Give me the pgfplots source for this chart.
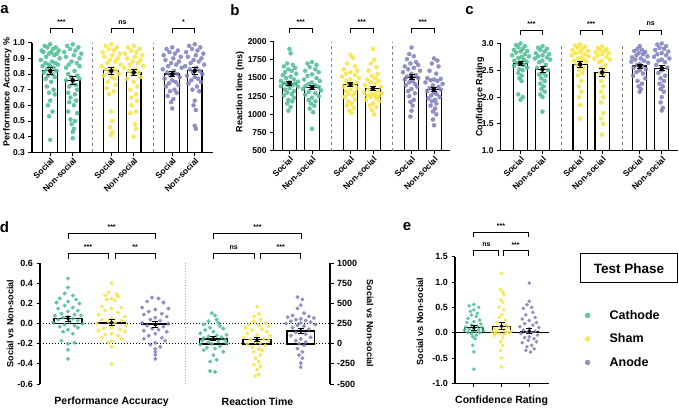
\documentclass[border=0pt]{standalone}
\usepackage{fontspec}
\setmainfont{Liberation Sans}
\usepackage{pgfplots}
\pgfplotsset{compat=1.18}

\definecolor{cath}{RGB}{75,190,145}
\definecolor{sham}{RGB}{248,228,60}
\definecolor{anod}{RGB}{128,128,190}

% swarm: position, x spread factor, colour, rows "dx value\\"
\newcommand{\sw}[4]{\addplot[only marks, mark=*, color=#3, mark options={draw=#3, fill=#3, opacity=0.85}]
  table[row sep=\\, x expr=\thisrow{d}*#2+#1, y=v] {d v\\ #4};}
% bracket: x1, x2, y of bar, y of legs, text shift, text
\newcommand{\brk}[6]{\draw[line width=0.9pt] (axis cs:#1,#4) -- (axis cs:#1,#3) -- node[pos=0.5, yshift=#5, font=\bfseries\fontsize{7}{8}\selectfont] {#6} (axis cs:#2,#3) -- (axis cs:#2,#4);}

\pgfplotsset{
  pan/.style={
    scale only axis, anchor=south west, clip mode=individual,
    axis line style={line width=1.1pt},
    every tick/.style={black, line width=0.9pt},
    major tick length=3.5pt, tick align=outside,
    /pgf/number format/assume math mode=true,
    ticklabel style={font=\bfseries\fontsize{8.5}{9}\selectfont},
    label style={font=\bfseries\fontsize{9}{10}\selectfont},
    yticklabel style={/pgf/number format/.cd, fixed, fixed zerofill, precision=1},
    every axis plot/.append style={mark size=2pt},
  },
  abc/.style={
    pan, axis x line*=bottom, axis y line*=left,
    xmin=-0.81, xmax=7.22,
    xtick={0,1,2.71,3.71,5.42,6.42},
    xticklabels={Social,Non-social,Social,Non-social,Social,Non-social},
    xticklabel style={rotate=45, anchor=north east, inner sep=1pt},
  },
  bars/.style={ybar, bar width=0.65, fill=white, draw=black, line width=1.1pt, forget plot},
  errs/.style={forget plot, only marks, mark=none, error bars/.cd, y dir=both, y explicit,
    error bar style={line width=0.7pt, black}, error mark options={rotate=90, mark size=3pt, line width=0.7pt, black}},
}

\begin{document}
\begin{tikzpicture}
\useasboundingbox (0pt,0pt) rectangle (679pt,409pt);

% ---------------- a
\begin{axis}[abc, at={(32pt,256.7pt)}, width=180.7pt, height=109.6pt,
  ymin=0.3, ymax=1.0, ytick={0.3,0.4,0.5,0.6,0.7,0.8,0.9,1.0},
  ylabel={Performance Accuracy \%},
  ylabel style={at={(axis description cs:-0.137,0.55)}, anchor=center}]
\addplot[bars] coordinates {(0,0.82) (1,0.76) (2.71,0.82) (3.71,0.81) (5.42,0.80) (6.42,0.82)};
\sw{0}{1}{cath}{0 0.99\\ -0.25 0.98\\ 0.25 0.97\\ -0.12 0.97\\ 0.12 0.96\\ -0.38 0.95\\ 0.38 0.95\\ 0.05 0.94\\ -0.3 0.94\\ 0.3 0.93\\ -0.05 0.93\\ 0.18 0.92\\ -0.18 0.91\\ 0.42 0.90\\ -0.42 0.89\\ 0.08 0.88\\ -0.22 0.87\\ 0.22 0.87\\ -0.08 0.86\\ 0.34 0.86\\ -0.34 0.85\\ 0 0.85\\ 0.15 0.84\\ -0.15 0.83\\ 0.28 0.82\\ -0.28 0.81\\ 0.1 0.80\\ -0.1 0.79\\ 0.2 0.78\\ -0.2 0.77\\ 0.04 0.75\\ -0.15 0.72\\ 0.15 0.70\\ -0.05 0.68\\ 0.2 0.67\\ 0 0.63\\ -0.1 0.60\\ 0.1 0.56\\ -0.05 0.53\\ 0 0.38\\}
\sw{1}{1}{cath}{0 0.99\\ -0.25 0.98\\ 0.25 0.97\\ -0.12 0.96\\ 0.12 0.95\\ -0.38 0.94\\ 0.38 0.93\\ 0.05 0.92\\ -0.3 0.91\\ 0.3 0.90\\ -0.05 0.88\\ 0.18 0.87\\ -0.18 0.86\\ 0.3 0.85\\ -0.3 0.84\\ 0.08 0.82\\ -0.2 0.80\\ 0.2 0.79\\ -0.08 0.78\\ 0.3 0.77\\ -0.3 0.76\\ 0 0.74\\ 0.15 0.73\\ -0.15 0.72\\ 0.2 0.70\\ -0.2 0.68\\ 0.1 0.67\\ -0.1 0.65\\ 0.15 0.63\\ -0.15 0.62\\ 0.05 0.60\\ -0.2 0.56\\ 0.2 0.55\\ -0.1 0.51\\ 0.1 0.50\\ -0.05 0.48\\ 0.05 0.45\\ 0 0.43\\ 0 0.39\\}
\sw{2.71}{1}{sham}{0 0.99\\ -0.25 0.98\\ 0.25 0.97\\ -0.12 0.96\\ 0.12 0.95\\ -0.38 0.94\\ 0.38 0.93\\ 0.05 0.92\\ -0.3 0.91\\ 0.3 0.90\\ -0.05 0.89\\ 0.18 0.88\\ -0.18 0.87\\ 0.42 0.86\\ -0.42 0.85\\ 0.08 0.84\\ -0.22 0.83\\ 0.22 0.82\\ -0.08 0.81\\ 0.34 0.80\\ -0.34 0.79\\ 0 0.78\\ 0.15 0.77\\ -0.15 0.75\\ 0.2 0.73\\ -0.2 0.71\\ 0.1 0.69\\ -0.1 0.67\\ 0 0.56\\ 0.05 0.50\\ -0.05 0.46\\ 0.05 0.43\\ 0 0.41\\}
\sw{3.71}{1}{sham}{0 0.98\\ -0.25 0.97\\ 0.25 0.96\\ -0.12 0.95\\ 0.12 0.94\\ -0.38 0.93\\ 0.38 0.92\\ 0.05 0.91\\ -0.3 0.90\\ 0.3 0.89\\ -0.05 0.88\\ 0.18 0.87\\ -0.18 0.86\\ 0.42 0.85\\ -0.42 0.84\\ 0.08 0.83\\ -0.22 0.82\\ 0.22 0.81\\ -0.08 0.80\\ 0.3 0.78\\ -0.3 0.77\\ 0 0.75\\ 0.15 0.72\\ -0.15 0.70\\ 0.1 0.67\\ -0.1 0.65\\ 0.15 0.63\\ -0.1 0.60\\ 0.1 0.56\\ -0.15 0.55\\ 0.05 0.48\\ 0.1 0.45\\ 0 0.40\\}
\sw{5.42}{1}{anod}{0 0.97\\ -0.25 0.96\\ 0.25 0.95\\ -0.12 0.94\\ 0.12 0.93\\ -0.38 0.92\\ 0.38 0.91\\ 0.05 0.90\\ -0.3 0.89\\ 0.3 0.88\\ -0.05 0.87\\ 0.18 0.86\\ -0.18 0.85\\ 0.42 0.84\\ -0.42 0.83\\ 0.08 0.82\\ -0.22 0.81\\ 0.22 0.80\\ -0.08 0.79\\ 0.34 0.78\\ -0.34 0.77\\ 0 0.76\\ 0.15 0.75\\ -0.15 0.74\\ 0.28 0.73\\ -0.28 0.72\\ 0.1 0.70\\ -0.1 0.69\\ 0.2 0.68\\ -0.2 0.66\\ 0.05 0.64\\ -0.05 0.62\\ 0 0.58\\}
\sw{6.42}{1}{anod}{0 0.99\\ -0.25 0.98\\ 0.25 0.97\\ -0.12 0.96\\ 0.12 0.95\\ -0.38 0.94\\ 0.38 0.93\\ 0.05 0.92\\ -0.3 0.91\\ 0.3 0.90\\ -0.05 0.89\\ 0.18 0.88\\ -0.18 0.87\\ 0.42 0.86\\ -0.42 0.85\\ 0.08 0.84\\ -0.22 0.83\\ 0.22 0.82\\ -0.08 0.81\\ 0.34 0.80\\ -0.34 0.79\\ 0 0.78\\ 0.15 0.77\\ -0.15 0.76\\ 0.28 0.75\\ -0.28 0.74\\ 0.1 0.72\\ -0.1 0.70\\ 0.2 0.69\\ 0 0.63\\ -0.05 0.60\\ 0.05 0.57\\ 0 0.47\\ 0.05 0.45\\}
\addplot[errs] coordinates {(0,0.82) +- (0,0.02) (1,0.76) +- (0,0.025) (2.71,0.82) +- (0,0.02) (3.71,0.81) +- (0,0.02) (5.42,0.80) +- (0,0.015) (6.42,0.82) +- (0,0.02)};
\draw[gray, dashed, line width=0.5pt] (axis cs:1.855,0.3) -- (axis cs:1.855,1.0);
\draw[gray, dashed, line width=0.5pt] (axis cs:4.565,0.3) -- (axis cs:4.565,1.0);
\brk{0}{1}{1.092}{1.060}{6pt}{***}
\brk{2.71}{3.71}{1.092}{1.060}{6pt}{ns}
\brk{5.42}{6.42}{1.092}{1.060}{6pt}{*}
\end{axis}

% ---------------- b
\begin{axis}[abc, at={(273.7pt,258.3pt)}, width=176.3pt, height=109pt,
  xmin=-0.70, xmax=7.13,
  ymin=500, ymax=2000, ytick={500,750,1000,1250,1500,1750,2000},
  yticklabel style={/pgf/number format/.cd, fixed, precision=0, 1000 sep={}},
  ylabel={Reaction time (ms)},
  ylabel style={at={(axis description cs:-0.191,0.54)}, anchor=center}]
\addplot[bars] coordinates {(0,1430) (1,1370) (2.71,1415) (3.71,1360) (5.42,1510) (6.42,1345)};
\sw{0}{1}{cath}{0 1900\\ 0.05 1840\\ -0.1 1700\\ 0.15 1680\\ -0.25 1660\\ 0.25 1640\\ -0.05 1620\\ 0.1 1600\\ -0.2 1580\\ 0.3 1560\\ -0.3 1540\\ 0.05 1520\\ -0.15 1500\\ 0.2 1480\\ -0.38 1460\\ 0.38 1450\\ 0 1440\\ -0.25 1430\\ 0.25 1420\\ -0.1 1410\\ 0.12 1400\\ -0.38 1390\\ 0.38 1380\\ 0 1360\\ -0.2 1340\\ 0.2 1320\\ -0.1 1300\\ 0.1 1280\\ -0.25 1260\\ 0.2 1230\\ -0.05 1200\\ 0.12 1180\\ -0.1 1150\\ 0.05 1100\\ -0.05 1050\\}
\sw{1}{1}{cath}{0 1720\\ -0.2 1700\\ 0.2 1680\\ -0.1 1650\\ 0.15 1620\\ -0.3 1600\\ 0.3 1580\\ 0 1550\\ -0.2 1530\\ 0.2 1500\\ -0.35 1480\\ 0.35 1460\\ 0 1440\\ -0.15 1420\\ 0.15 1400\\ -0.3 1390\\ 0.3 1380\\ 0 1370\\ -0.4 1350\\ 0.4 1330\\ -0.15 1310\\ 0.15 1290\\ -0.3 1270\\ 0.3 1250\\ 0 1230\\ -0.15 1200\\ 0.15 1180\\ -0.05 1150\\ 0.1 1120\\ -0.1 1080\\ 0.05 1030\\ 0 800\\}
\sw{2.71}{1}{sham}{0 1820\\ 0.1 1780\\ -0.15 1700\\ 0.2 1660\\ -0.3 1620\\ 0.3 1600\\ 0 1580\\ -0.2 1560\\ 0.2 1540\\ -0.38 1520\\ 0.38 1500\\ 0 1480\\ -0.2 1460\\ 0.25 1440\\ -0.1 1420\\ 0.1 1400\\ -0.3 1380\\ 0.3 1360\\ 0 1340\\ -0.2 1320\\ 0.2 1300\\ -0.1 1280\\ 0.1 1260\\ -0.25 1240\\ 0.2 1200\\ -0.1 1180\\ 0.05 1150\\ -0.15 1120\\ 0.15 1090\\ -0.05 1050\\ 0.05 1020\\}
\sw{3.71}{1}{sham}{0 1900\\ 0.05 1750\\ -0.1 1700\\ 0.15 1650\\ -0.2 1600\\ 0.2 1560\\ -0.05 1530\\ 0.1 1500\\ -0.25 1480\\ 0.25 1460\\ -0.1 1440\\ 0.1 1420\\ -0.35 1400\\ 0.35 1380\\ 0 1360\\ -0.2 1340\\ 0.2 1320\\ -0.4 1300\\ 0.4 1290\\ -0.05 1280\\ 0.1 1270\\ -0.25 1260\\ 0.25 1250\\ -0.1 1240\\ 0.15 1220\\ -0.3 1200\\ 0.3 1180\\ 0 1150\\ -0.15 1120\\ 0.15 1100\\ -0.05 1060\\ 0.05 1000\\}
\sw{5.42}{1}{anod}{0 1920\\ -0.1 1830\\ 0.1 1800\\ -0.2 1760\\ 0.2 1720\\ -0.05 1700\\ 0.3 1680\\ -0.3 1660\\ 0.1 1640\\ -0.15 1620\\ 0.38 1600\\ -0.38 1580\\ 0 1560\\ 0.2 1540\\ -0.2 1520\\ 0.3 1500\\ -0.3 1480\\ 0.05 1460\\ -0.1 1440\\ 0.15 1420\\ -0.25 1400\\ 0.25 1380\\ 0 1350\\ -0.15 1320\\ 0.15 1290\\ -0.1 1250\\ 0.1 1200\\ -0.05 1170\\ 0.05 1120\\ 0 1050\\ -0.05 970\\}
\sw{6.42}{1}{anod}{0 1770\\ 0.15 1740\\ -0.1 1700\\ 0.2 1660\\ -0.2 1600\\ 0.1 1560\\ -0.3 1500\\ 0.3 1490\\ 0 1480\\ -0.15 1470\\ 0.15 1460\\ -0.38 1440\\ 0.38 1420\\ -0.05 1400\\ 0.2 1380\\ -0.2 1360\\ 0.3 1340\\ -0.3 1320\\ 0 1300\\ 0.12 1280\\ -0.12 1260\\ 0.25 1240\\ -0.25 1220\\ 0.05 1200\\ -0.1 1180\\ 0.1 1150\\ -0.15 1120\\ 0.05 1080\\ -0.05 1040\\ 0.1 1000\\ -0.05 930\\ 0 850\\}
\addplot[errs] coordinates {(0,1430) +- (0,25) (1,1370) +- (0,30) (2.71,1415) +- (0,30) (3.71,1360) +- (0,30) (5.42,1510) +- (0,35) (6.42,1345) +- (0,30)};
\draw[gray, dashed, line width=0.5pt] (axis cs:1.86,500) -- (axis cs:1.86,2000);
\draw[gray, dashed, line width=0.5pt] (axis cs:4.56,500) -- (axis cs:4.56,2000);
\brk{0}{1}{2184}{2116}{6pt}{***}
\brk{2.71}{3.71}{2184}{2116}{6pt}{***}
\brk{5.42}{6.42}{2184}{2116}{6pt}{***}
\end{axis}

% ---------------- c
\begin{axis}[abc, at={(500.7pt,258.3pt)}, width=177.3pt, height=107.2pt,
  xmin=-0.9, xmax=7.16,
  ymin=1.0, ymax=3.0, ytick={1.0,1.5,2.0,2.5,3.0},
  ylabel={Confidence Rating},
  ylabel style={at={(axis description cs:-0.117,0.5)}, anchor=center}]
\addplot[bars] coordinates {(0,2.63) (1,2.52) (2.71,2.61) (3.71,2.46) (5.42,2.58) (6.42,2.54)};
\sw{0}{1}{cath}{0 3.0\\ -0.2 2.97\\ 0.2 2.95\\ -0.1 2.93\\ 0.1 2.9\\ -0.3 2.88\\ 0.3 2.86\\ 0 2.85\\ -0.2 2.83\\ 0.2 2.8\\ -0.38 2.78\\ 0.38 2.76\\ 0.05 2.75\\ -0.1 2.73\\ 0.15 2.7\\ -0.28 2.68\\ 0.28 2.66\\ 0 2.65\\ -0.15 2.63\\ 0.15 2.6\\ -0.3 2.58\\ 0.3 2.55\\ -0.05 2.52\\ 0.1 2.5\\ -0.1 2.45\\ 0.05 2.4\\ -0.05 2.35\\ 0.05 2.3\\ -0.1 2.05\\ 0.1 2.0\\ 0 1.95\\}
\sw{1}{1}{cath}{0 2.95\\ -0.2 2.92\\ 0.2 2.9\\ -0.1 2.88\\ 0.1 2.85\\ -0.3 2.82\\ 0.3 2.8\\ 0 2.78\\ -0.2 2.76\\ 0.2 2.74\\ -0.35 2.72\\ 0.35 2.7\\ 0 2.68\\ -0.15 2.65\\ 0.15 2.6\\ -0.25 2.55\\ 0.25 2.5\\ 0 2.45\\ -0.15 2.42\\ 0.15 2.4\\ -0.05 2.35\\ 0.1 2.3\\ -0.1 2.25\\ 0.05 2.2\\ -0.05 2.15\\ 0.1 2.1\\ -0.1 2.05\\ 0 2.0\\ 0 1.73\\}
\sw{2.71}{1}{sham}{0 2.98\\ -0.22 2.96\\ 0.22 2.94\\ -0.1 2.92\\ 0.1 2.9\\ -0.35 2.88\\ 0.35 2.86\\ 0 2.84\\ -0.2 2.82\\ 0.2 2.8\\ -0.38 2.78\\ 0.38 2.76\\ 0.05 2.74\\ -0.1 2.72\\ 0.15 2.7\\ -0.28 2.68\\ 0.28 2.66\\ 0 2.64\\ -0.15 2.6\\ 0.15 2.55\\ -0.05 2.5\\ 0.1 2.45\\ -0.1 2.4\\ 0.05 2.3\\ -0.05 2.2\\ 0.05 2.1\\ -0.05 2.0\\ 0 1.85\\ 0 1.6\\}
\sw{3.71}{1}{sham}{0 2.95\\ -0.2 2.92\\ 0.2 2.9\\ -0.1 2.88\\ 0.1 2.86\\ -0.3 2.84\\ 0.3 2.82\\ 0 2.8\\ -0.2 2.78\\ 0.2 2.75\\ -0.35 2.72\\ 0.35 2.7\\ 0 2.68\\ -0.15 2.65\\ 0.15 2.6\\ -0.05 2.55\\ 0.1 2.5\\ -0.1 2.45\\ 0.05 2.4\\ -0.05 2.3\\ 0.05 2.2\\ -0.05 2.1\\ 0.05 2.0\\ -0.05 1.9\\ 0.05 1.7\\ -0.05 1.6\\ 0.05 1.5\\ 0 1.3\\}
\sw{5.42}{1}{anod}{0 2.95\\ -0.1 2.9\\ 0.1 2.88\\ -0.25 2.86\\ 0.25 2.84\\ -0.05 2.82\\ 0.15 2.8\\ -0.15 2.78\\ 0.35 2.76\\ -0.35 2.74\\ 0.05 2.72\\ -0.2 2.7\\ 0.2 2.68\\ -0.38 2.66\\ 0.38 2.64\\ 0 2.62\\ -0.12 2.6\\ 0.12 2.58\\ -0.28 2.55\\ 0.28 2.52\\ 0 2.5\\ -0.15 2.47\\ 0.15 2.44\\ -0.3 2.4\\ 0.25 2.35\\ -0.1 2.3\\ 0.1 2.25\\ -0.05 2.2\\ 0.05 2.15\\ 0 2.1\\}
\sw{6.42}{1}{anod}{0 3.0\\ -0.2 2.98\\ 0.2 2.95\\ -0.1 2.92\\ 0.1 2.9\\ -0.3 2.88\\ 0.3 2.85\\ 0 2.82\\ -0.2 2.8\\ 0.2 2.78\\ -0.35 2.75\\ 0.35 2.72\\ 0 2.7\\ -0.15 2.68\\ 0.15 2.65\\ -0.25 2.6\\ 0.25 2.55\\ 0 2.5\\ -0.15 2.45\\ 0.15 2.4\\ -0.05 2.35\\ 0.1 2.3\\ -0.1 2.25\\ 0.05 2.2\\ -0.05 2.15\\ 0.1 2.1\\ 0 2.0\\ -0.05 1.9\\ 0.05 1.8\\ 0 1.75\\}
\addplot[errs] coordinates {(0,2.63) +- (0,0.04) (1,2.52) +- (0,0.05) (2.71,2.61) +- (0,0.05) (3.71,2.46) +- (0,0.07) (5.42,2.58) +- (0,0.04) (6.42,2.54) +- (0,0.05)};
\draw[gray, dashed, line width=0.5pt] (axis cs:1.85,1.0) -- (axis cs:1.85,3.0);
\draw[gray, dashed, line width=0.5pt] (axis cs:4.61,1.0) -- (axis cs:4.61,3.0);
\brk{0}{1}{3.251}{3.158}{6pt}{***}
\brk{2.71}{3.71}{3.251}{3.158}{6pt}{***}
\brk{5.42}{6.42}{3.251}{3.158}{6pt}{ns}
\end{axis}

% ---------------- d, left axis: performance accuracy
\begin{axis}[pan, at={(40pt,25pt)}, width=290pt, height=120.7pt,
  axis y line*=left, axis x line=none,
  xmin=-0.64, xmax=6.0, ymin=-0.6, ymax=0.6,
  ytick={-0.6,-0.4,-0.2,0,0.2,0.4,0.6},
  ticklabel style={font=\bfseries\fontsize{9}{10}\selectfont},
  every axis plot/.append style={mark size=1.8pt},
  ylabel={Social vs Non-social},
  ylabel style={at={(axis description cs:-0.103,0.5)}, anchor=center}]
\draw[dotted, line width=1pt] (axis cs:-0.64,0) -- (axis cs:6,0);
\draw[dotted, line width=1pt] (axis cs:-0.64,-0.2) -- (axis cs:6,-0.2);
\draw[gray!70, dotted, line width=0.8pt] (axis cs:2.68,-0.6) -- (axis cs:2.68,0.6);
\addplot[bars, bar width=0.64, line width=1.5pt] coordinates {(0,0.05) (1,0.01) (2,-0.01)};
\sw{0}{0.75}{cath}{0 0.45\\ 0 0.36\\ -0.1 0.30\\ 0.15 0.28\\ -0.25 0.25\\ 0.25 0.24\\ 0 0.22\\ -0.35 0.21\\ 0.35 0.20\\ -0.1 0.18\\ 0.15 0.16\\ -0.3 0.15\\ 0.3 0.13\\ 0 0.12\\ -0.2 0.10\\ 0.2 0.09\\ -0.4 0.08\\ 0.4 0.08\\ 0 0.07\\ -0.15 0.06\\ 0.15 0.05\\ -0.3 0.04\\ 0.3 0.03\\ 0.05 0.02\\ -0.45 0.01\\ 0.45 0.00\\ -0.1 -0.01\\ 0.2 -0.02\\ -0.25 -0.03\\ 0.3 -0.04\\ 0 -0.06\\ -0.15 -0.08\\ 0.15 -0.10\\ -0.2 -0.17\\ 0.2 -0.19\\ 0 -0.20\\ 0 -0.26\\ 0 -0.35\\}
\sw{1}{0.75}{sham}{0 0.40\\ -0.1 0.31\\ 0.15 0.29\\ -0.2 0.28\\ 0.2 0.27\\ 0 0.25\\ -0.15 0.24\\ 0.1 0.23\\ -0.3 0.17\\ 0.3 0.16\\ 0 0.15\\ -0.2 0.13\\ 0.2 0.11\\ -0.4 0.09\\ 0.4 0.07\\ 0 0.05\\ -0.3 0.04\\ 0.3 0.03\\ -0.1 0.02\\ 0.1 0.01\\ -0.45 0.00\\ 0.45 -0.02\\ 0 -0.04\\ -0.25 -0.05\\ 0.25 -0.06\\ -0.4 -0.07\\ 0.4 -0.08\\ 0 -0.10\\ -0.2 -0.11\\ 0.2 -0.12\\ -0.3 -0.14\\ 0.3 -0.15\\ 0 -0.17\\ -0.1 -0.19\\ 0 -0.23\\ 0 -0.40\\}
\sw{2}{0.75}{anod}{-0.1 0.26\\ 0.1 0.25\\ -0.25 0.22\\ 0.25 0.21\\ -0.4 0.16\\ 0.4 0.15\\ 0 0.14\\ -0.2 0.12\\ 0.2 0.10\\ -0.35 0.09\\ 0.35 0.07\\ 0 0.06\\ -0.15 0.04\\ 0.15 0.03\\ -0.4 0.01\\ 0.4 0.00\\ 0 -0.01\\ -0.25 -0.02\\ 0.25 -0.03\\ -0.1 -0.05\\ 0.1 -0.06\\ -0.35 -0.07\\ 0.35 -0.08\\ 0 -0.10\\ -0.2 -0.12\\ 0.2 -0.14\\ -0.35 -0.15\\ 0.3 -0.17\\ 0 -0.19\\ -0.15 -0.21\\ 0.15 -0.23\\ 0 -0.25\\ 0 -0.28\\ 0 -0.31\\ 0 -0.35\\}
\addplot[errs] coordinates {(0,0.05) +- (0,0.025) (1,0.01) +- (0,0.03) (2,-0.01) +- (0,0.03)};
\brk{0}{2}{0.898}{0.839}{6pt}{***}
\brk{0}{0.92}{0.699}{0.643}{6pt}{***}
\brk{1.08}{2}{0.699}{0.643}{6pt}{**}
\brk{3.33}{5.35}{0.898}{0.839}{6pt}{***}
\brk{3.33}{4.26}{0.699}{0.643}{6pt}{ns}
\brk{4.41}{5.33}{0.699}{0.643}{6pt}{***}
\node[font=\bfseries\fontsize{10.5}{11}\selectfont] at (axis cs:1,-0.6) [yshift=-17.7pt] {Performance Accuracy};
\node[font=\bfseries\fontsize{10.5}{11}\selectfont] at (axis cs:4.34,-0.6) [yshift=-17.7pt] {Reaction Time};
\end{axis}

% ---------------- d, right axis: reaction time
\begin{axis}[pan, at={(40pt,25pt)}, width=290pt, height=120.7pt,
  axis y line*=right, axis x line=none,
  xmin=-0.64, xmax=6.0, ymin=-500, ymax=1000,
  ytick={-500,-250,0,250,500,750,1000},
  yticklabel style={/pgf/number format/.cd, fixed, precision=0, 1000 sep={}},
  ticklabel style={font=\bfseries\fontsize{9}{10}\selectfont},
  every axis plot/.append style={mark size=1.8pt},
  ylabel={Social vs Non-social},
  ylabel style={at={(axis description cs:1.138,0.5)}, anchor=center, rotate=180}]
\addplot[bars, bar width=0.64, line width=1.5pt] coordinates {(3.33,62) (4.33,50) (5.33,160)};
\sw{3.33}{0.75}{cath}{-0.05 380\\ 0.05 350\\ 0.1 300\\ -0.15 280\\ 0.15 260\\ -0.3 240\\ 0.2 220\\ -0.1 200\\ 0.3 190\\ -0.25 170\\ 0 150\\ -0.4 130\\ 0.4 110\\ 0.1 100\\ -0.15 90\\ 0.25 80\\ -0.3 70\\ 0 60\\ 0.35 50\\ -0.35 40\\ 0.15 30\\ -0.15 20\\ 0.4 10\\ -0.05 0\\ -0.4 -10\\ 0.2 -30\\ -0.2 -50\\ 0.05 -60\\ -0.3 -80\\ 0.3 -100\\ 0 -140\\ 0.1 -200\\ -0.1 -220\\ -0.1 -340\\ 0.05 -350\\}
\sw{4.33}{0.75}{sham}{0 460\\ 0.05 370\\ -0.1 340\\ 0.1 300\\ -0.1 280\\ 0.25 260\\ -0.25 240\\ 0.05 230\\ 0.35 220\\ -0.35 200\\ 0.15 180\\ -0.15 170\\ 0.3 150\\ -0.3 130\\ 0 110\\ 0.4 100\\ -0.4 80\\ 0.2 60\\ -0.2 50\\ 0.35 40\\ -0.05 20\\ 0.1 10\\ -0.3 0\\ 0.25 -20\\ -0.15 -40\\ 0.05 -60\\ 0.15 -80\\ -0.1 -100\\ 0.1 -140\\ -0.05 -180\\ 0.05 -220\\ -0.1 -260\\ 0.1 -280\\ 0 -320\\ 0.05 -380\\ -0.05 -400\\}
\sw{5.33}{0.75}{anod}{-0.1 580\\ 0.05 550\\ 0 480\\ -0.1 440\\ 0.1 380\\ -0.25 350\\ 0.25 340\\ -0.4 330\\ 0.4 320\\ 0 310\\ -0.15 300\\ 0.15 290\\ -0.3 280\\ 0.3 270\\ 0 260\\ -0.45 250\\ 0.45 240\\ -0.1 230\\ 0.1 220\\ -0.25 200\\ 0.25 180\\ 0 160\\ -0.15 140\\ 0.15 120\\ -0.3 100\\ 0.3 80\\ 0 60\\ -0.15 40\\ 0.15 20\\ -0.05 0\\ 0.1 -20\\ -0.1 -60\\ 0.05 -100\\ -0.05 -140\\ 0.05 -180\\ 0 -240\\ 0 -290\\}
\addplot[errs] coordinates {(3.33,62) +- (0,25) (4.33,50) +- (0,25) (5.33,160) +- (0,35)};
\end{axis}

% ---------------- e
\begin{axis}[pan, at={(455pt,25.7pt)}, width=94.3pt, height=126.6pt,
  axis x line*=bottom, axis y line*=left,
  xmin=-0.68, xmax=2.72, ymin=-1.0, ymax=1.5,
  xtick={0,1,2}, xticklabels={},
  ytick={-1.0,-0.5,0,0.5,1.0,1.5},
  ticklabel style={font=\bfseries\fontsize{9}{10}\selectfont},
  every axis plot/.append style={mark size=1.6pt},
  ylabel={Social vs Non-social},
  ylabel style={at={(axis description cs:-0.371,0.49)}, anchor=center},
  legend style={draw=none, fill=none, at={(1.346,0.35)}, anchor=west,
    font=\bfseries\fontsize{12.5}{13}\selectfont, row sep=9pt},
  legend image code/.code={\draw[#1, mark size=2.5pt] plot coordinates {(0pt,0pt)}; \path[draw=none, fill=none] (0pt,-0.1pt) rectangle (20pt,0.1pt);},
  legend cell align=left]
\draw[line width=1pt] (axis cs:-0.68,0) -- (axis cs:2.72,0);
\addplot[bars, bar width=0.66] coordinates {(0,0.10) (1,0.13) (2,0.03)};
\sw{0}{0.85}{cath}{0 0.56\\ -0.2 0.53\\ 0.2 0.50\\ 0 0.45\\ -0.15 0.42\\ 0.15 0.38\\ -0.1 0.35\\ 0.1 0.32\\ -0.25 0.28\\ 0.25 0.25\\ 0 0.22\\ -0.3 0.20\\ 0.3 0.17\\ -0.1 0.15\\ 0.15 0.13\\ -0.35 0.11\\ 0.35 0.10\\ 0 0.08\\ -0.2 0.07\\ 0.2 0.06\\ -0.4 0.05\\ 0.4 0.04\\ -0.05 0.03\\ 0.1 0.02\\ -0.25 0.01\\ 0.25 0.00\\ -0.1 -0.02\\ 0.1 -0.05\\ -0.05 -0.08\\ 0.05 -0.12\\ -0.05 -0.25\\ 0 -0.38\\ 0 -0.72\\}
\addlegendentry{Cathode}
\sw{1}{0.85}{sham}{0 1.17\\ -0.05 0.85\\ 0.05 0.80\\ 0.1 0.75\\ -0.05 0.65\\ 0.05 0.60\\ -0.1 0.50\\ 0.1 0.45\\ 0 0.35\\ -0.1 0.30\\ 0.15 0.25\\ -0.2 0.20\\ 0.2 0.15\\ -0.05 0.12\\ 0.3 0.10\\ -0.3 0.08\\ 0.1 0.06\\ -0.15 0.05\\ 0.4 0.03\\ -0.4 0.02\\ 0.2 0.01\\ -0.25 0.00\\ 0.3 0.00\\ -0.1 -0.02\\ 0.1 -0.03\\ -0.3 -0.05\\ 0.05 -0.10\\ -0.05 -0.18\\ 0.05 -0.25\\ -0.05 -0.35\\ 0 -0.50\\ 0 -0.68\\}
\addlegendentry{Sham}
\sw{2}{0.85}{anod}{0 0.98\\ 0 0.62\\ -0.1 0.55\\ 0.1 0.50\\ -0.25 0.48\\ 0.15 0.40\\ -0.15 0.35\\ 0.25 0.30\\ -0.3 0.27\\ 0 0.24\\ 0.3 0.20\\ -0.2 0.18\\ 0.15 0.15\\ -0.4 0.12\\ 0.4 0.10\\ 0 0.08\\ -0.25 0.05\\ 0.25 0.03\\ -0.1 0.01\\ 0.1 0.00\\ -0.35 -0.02\\ 0.35 -0.05\\ 0 -0.08\\ -0.2 -0.10\\ 0.2 -0.12\\ -0.05 -0.15\\ 0.3 -0.18\\ -0.3 -0.20\\ 0.1 -0.25\\ -0.1 -0.28\\ 0.2 -0.32\\ -0.15 -0.35\\ 0.05 -0.38\\}
\addlegendentry{Anode}
\addplot[errs] coordinates {(0,0.10) +- (0,0.05) (1,0.13) +- (0,0.07) (2,0.03) +- (0,0.05)};
\brk{0}{1.95}{1.982}{1.883}{6pt}{***}
\brk{0}{0.9}{1.618}{1.52}{6pt}{ns}
\brk{1.06}{1.95}{1.618}{1.52}{6pt}{***}
\node[font=\bfseries\fontsize{10.5}{11}\selectfont] at (axis cs:1,-1.0) [yshift=-17.7pt] {Confidence Rating};
\end{axis}

% panel letters and legend title
\node[font=\bfseries\fontsize{15}{15}\selectfont] at (4.5pt,399pt) {a};
\node[font=\bfseries\fontsize{15}{15}\selectfont] at (235pt,399pt) {b};
\node[font=\bfseries\fontsize{15}{15}\selectfont] at (469.5pt,398pt) {c};
\node[font=\bfseries\fontsize{15}{15}\selectfont] at (4.5pt,181.5pt) {d};
\node[font=\bfseries\fontsize{15}{15}\selectfont] at (407pt,182pt) {e};
\node[draw, line width=1.3pt, minimum width=97pt, minimum height=29pt, font=\bfseries\fontsize{13.5}{14}\selectfont] at (629pt,140.7pt) {Test Phase};
\end{tikzpicture}
\end{document}
